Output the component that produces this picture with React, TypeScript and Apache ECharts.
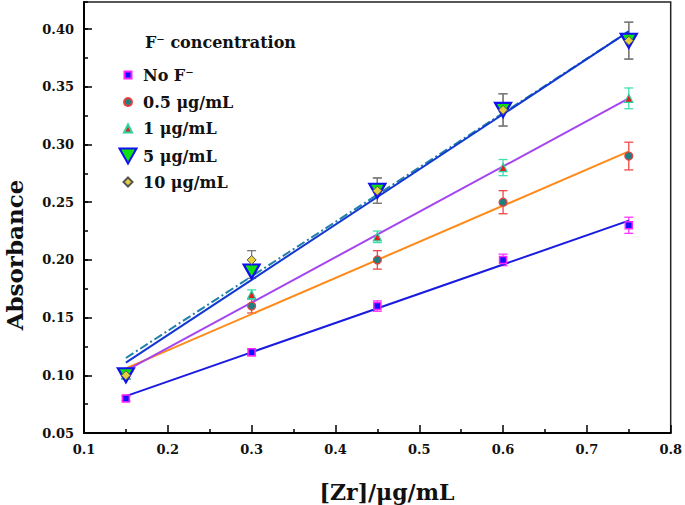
import React, { useEffect, useRef } from "react";
import * as echarts from "echarts";

const xValues = [0.15, 0.3, 0.45, 0.6, 0.75];
const noF = [0.08, 0.12, 0.16, 0.2, 0.23];
const noFErr = [0.002, 0.003, 0.0045, 0.005, 0.007];
const c05 = [0.1, 0.16, 0.2, 0.25, 0.29];
const c05Err = [0.003, 0.006, 0.008, 0.01, 0.012];
const c1 = [0.1, 0.17, 0.22, 0.28, 0.34];
const c1Err = [0.003, 0.004, 0.005, 0.007, 0.009];
const c5 = [0.1, 0.19, 0.26, 0.33, 0.39];
const c5Err = [0.003, 0.006, 0.011, 0.014, 0.016];
const c10 = [0.1, 0.2, 0.26, 0.33, 0.39];
const c10Err = [0.003, 0.008, 0.011, 0.014, 0.016];

const fitX = [0.15, 0.75];
const fitNoF = [0.082, 0.234];
const fit05 = [0.106, 0.294];
const fit1 = [0.104, 0.34];
const fit5 = [0.111, 0.398];
const fit10 = [0.115, 0.398];

const seriesNames = ["No F\u207B", "0.5 \u03BCg/mL", "1 \u03BCg/mL", "5 \u03BCg/mL", "10 \u03BCg/mL"];
const legendTitle = "F\u207B concentration";
const xTitle = "[Zr]/\u03BCg/mL";
const yTitle = "Absorbance";

const FONT = "DejaVu Serif";
const INV_TRIANGLE = "path://M0,0L16,0L8,14Z";

function errSeries(vals: number[], errs: number[], color: string) {
  return {
    type: "custom",
    z: 1,
    silent: true,
    encode: { x: 0, y: 1 },
    data: xValues.map((x, i) => [x, vals[i], errs[i]]),
    renderItem: (params: any, api: any) => {
      const x = api.value(0);
      const y = api.value(1);
      const e = api.value(2);
      const top = api.coord([x, y + e]);
      const bot = api.coord([x, y - e]);
      const hw = 4.5;
      const style = { stroke: color, lineWidth: 1.3 };
      return {
        type: "group",
        children: [
          { type: "line", shape: { x1: top[0], y1: top[1], x2: bot[0], y2: bot[1] }, style },
          { type: "line", shape: { x1: top[0] - hw, y1: top[1], x2: top[0] + hw, y2: top[1] }, style },
          { type: "line", shape: { x1: bot[0] - hw, y1: bot[1], x2: bot[0] + hw, y2: bot[1] }, style },
        ],
      };
    },
  };
}

function fitSeries(name: string, vals: number[], color: string, type: any = "solid") {
  return {
    type: "line",
    name,
    z: 2,
    showSymbol: false,
    symbol: "none",
    silent: true,
    data: fitX.map((x, i) => [x, vals[i]]),
    lineStyle: { color, width: 2, type },
  };
}

function scatterSeries(name: string, vals: number[], symbol: string, size: any, fill: string, border: string, bw: number) {
  return {
    type: "scatter",
    name,
    z: 3,
    symbol,
    symbolSize: size,
    data: xValues.map((x, i) => [x, vals[i]]),
    itemStyle: { color: fill, borderColor: border, borderWidth: bw, opacity: 1 },
  };
}

const legendRows = [75, 102, 128.5, 156, 182];
const legendW = [7, 8, 8, 17, 9];
const legendH = [7, 8, 8, 15, 9];

export default function App() {
  const ref = useRef<HTMLDivElement>(null);
  useEffect(() => {
    if (!ref.current) return;
    const chart = echarts.init(ref.current, undefined, { renderer: "svg" });
    const textCommon = { fontFamily: FONT, fontWeight: "bold", color: "#111" };
    const legends = seriesNames.map((name, i) => {
      const w = legendW[i];
      return {
        data: [name],
        left: 127 - w / 2,
        top: legendRows[i] - 10,
        padding: 0,
        itemWidth: w,
        itemHeight: legendH[i],
        selectedMode: false,
        textStyle: { ...textCommon, fontSize: 16, lineHeight: 20, padding: [0, 0, 0, Math.max(0, 10 - w / 2)] },
      };
    });
    const axisLabelStyle = { fontFamily: FONT, fontWeight: "bold", fontSize: 13, color: "#111", margin: 10 };
    chart.setOption({
      animation: false,
      backgroundColor: "#fff",
      grid: { left: 84, right: 11, top: 2, bottom: 72, show: true, borderColor: "#222", borderWidth: 1.5 },
      legend: legends,
      xAxis: {
        type: "value",
        min: 0.1,
        max: 0.8,
        interval: 0.1,
        axisLine: { show: true, onZero: false, lineStyle: { color: "#000", width: 2 } },
        axisTick: { show: true, inside: true, length: 8, lineStyle: { color: "#000", width: 1.5 } },
        minorTick: { show: true, splitNumber: 2, length: 4, lineStyle: { color: "#000", width: 1.5 } },
        splitLine: { show: false },
        axisLabel: { ...axisLabelStyle, formatter: (v: number) => v.toFixed(1) },
      },
      yAxis: [
        {
          type: "value",
          min: 0.05,
          max: 0.4235,
          interval: 0.05,
          position: "left",
          axisLine: { show: true, onZero: false, lineStyle: { color: "#000", width: 2 } },
          axisTick: { show: true, inside: true, length: 8, lineStyle: { color: "#000", width: 1.5 } },
          splitLine: { show: false },
          axisLabel: { ...axisLabelStyle, showMaxLabel: false, formatter: (v: number) => v.toFixed(2) },
        },
        {
          type: "value",
          min: 0.05,
          max: 0.4235,
          interval: 0.025,
          position: "left",
          axisLine: { show: false },
          axisTick: { show: true, inside: true, length: 4, lineStyle: { color: "#000", width: 1.5 } },
          splitLine: { show: false },
          axisLabel: { show: false },
        },
      ],
      graphic: [
        { type: "text", x: 145, y: 42, style: { text: legendTitle, font: `bold 16px "${FONT}"`, fill: "#111", textVerticalAlign: "middle" } },
        { type: "text", x: 387, y: 492, style: { text: xTitle, font: `bold 22px "${FONT}"`, fill: "#111", textAlign: "center", textVerticalAlign: "middle" } },
        { type: "text", x: 14, y: 255, rotation: Math.PI / 2, style: { text: yTitle, font: `bold 23px "${FONT}"`, fill: "#111", textAlign: "center", textVerticalAlign: "middle" } },
      ],
      series: [
        errSeries(noF, noFErr, "#ff33ff"),
        errSeries(c05, c05Err, "#f04848"),
        errSeries(c1, c1Err, "#3ee0b0"),
        errSeries(c5, c5Err, "#7a7a7a"),
        errSeries(c10, c10Err, "#7a7a7a"),
        fitSeries("fitNoF", fitNoF, "#1a1ae0"),
        fitSeries("fit05", fit05, "#ff8a1a"),
        fitSeries("fit1", fit1, "#a545f0"),
        fitSeries("fit10", fit10, "#1f80a8", [9, 3, 2, 3]),
        fitSeries("fit5", fit5, "#1238d0"),
        scatterSeries(seriesNames[0], noF, "rect", 7, "#1010ff", "#ff20ff", 1.5),
        scatterSeries(seriesNames[1], c05, "circle", 8, "#1f7f7f", "#e84040", 1.2),
        scatterSeries(seriesNames[2], c1, "triangle", 8, "#e02020", "#30d0a0", 1.2),
        scatterSeries(seriesNames[3], c5, INV_TRIANGLE, [16, 14], "#10e010", "#1010f0", 2.2),
        scatterSeries(seriesNames[4], c10, "diamond", 9, "#e6d040", "#555555", 1),
      ],
    });
    return () => chart.dispose();
  }, []);
  return <div ref={ref} style={{ position: "fixed", left: 0, top: 0, width: 685, height: 505 }} />;
}
